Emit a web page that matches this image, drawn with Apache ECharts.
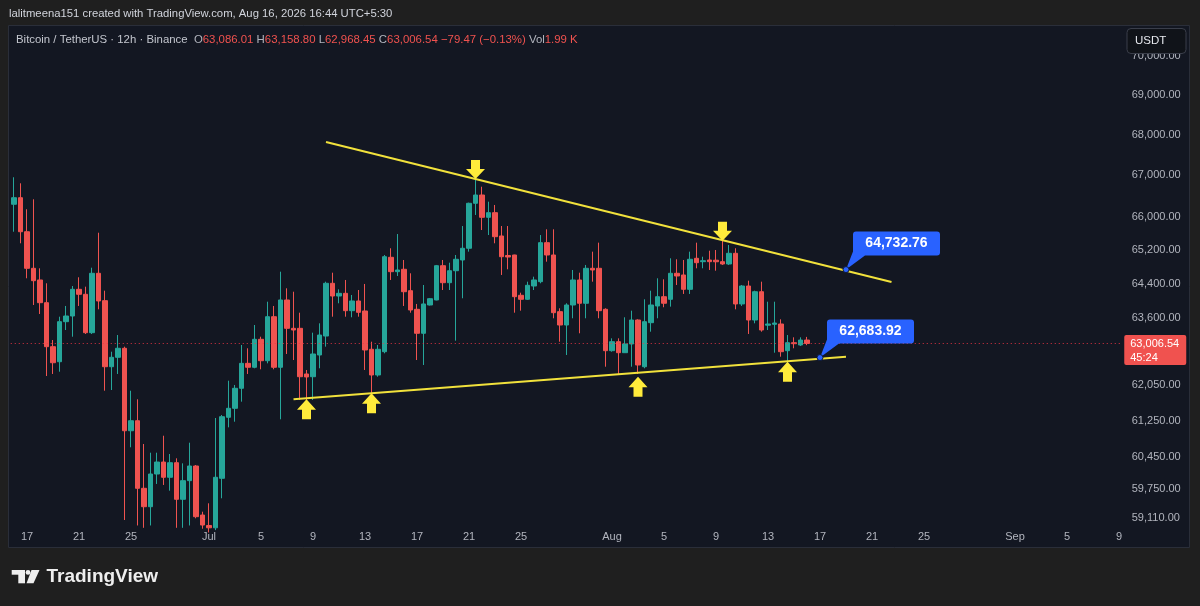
<!DOCTYPE html>
<html><head><meta charset="utf-8">
<script src="https://cdn.jsdelivr.net/npm/echarts@6/dist/echarts.min.js"></script>
<style>html,body{margin:0;padding:0;background:#1f1f1f;}#c{width:1200px;height:606px;}</style>
</head><body><div id="c"></div>
<script>
// ---------- DATA ----------
const slotStartUTC = Date.UTC(2026, 5, 16, 5, 30); // first 12h bar (Jun 16 05:30)
const slotCount = 171;                               // visible 12h slots on the time scale
const monthNames = ['Jan','Feb','Mar','Apr','May','Jun','Jul','Aug','Sep','Oct','Nov','Dec'];
const xTickDays = [1, 5, 9, 13, 17, 21, 25];

const opens = [66297,66457,65635,64763,64487,63954,62933,62588,63511,63643,64267,64150,63256,64645,64001,62474,62689,62896,61028,61252,
59757,59356,60070,60334,59998,60319,59517,59924,60246,59176,58950,58900,59976,61329,61531,61983,62551,62461,63103,62611,
63627,62461,64017,63357,63357,62308,62246,62742,63179,64409,64110,64173,63767,63994,63760,62873,62285,62818,65024,64683,
64740,64235,63799,63242,63900,64017,64825,64423,64706,64960,65239,66321,66522,65982,66094,65533,65067,65079,64127,64033,
64345,64447,65373,65079,63744,63434,63900,64487,63940,64763,64763,63799,62841,63048,62795,62995,63550,62474,63488,63877,
64094,64033,64645,64605,64267,65000,64920,64960,64955,64920,64865,65119,63924,64345,63550,64211,63430,63450,63457,62841,
63025,62972,63086.01];
const highs = [66955,66808,66176,66418,64763,64409,63087,63627,63877,64345,64551,64329,64777,65611,64235,62818,63202,62933,61928,61734,
60733,60540,60540,60917,60511,60416,60305,60762,60268,59248,59430,61313,61380,62155,62058,62972,62896,63434,63163,63977,
63877,64683,64291,64211,63720,62399,63256,63473,64447,64659,64267,64487,64134,64251,64393,63048,62972,65079,65239,65580,
64960,64645,63924,64369,64064,64842,64960,64896,65079,65772,66336,66888,66724,66360,66280,65772,65772,65085,64188,64447,
64565,65556,65693,65693,63823,63940,64723,64659,64842,65158,65373,63823,63126,63126,63613,63767,63566,64033,64235,64527,
64503,65000,64977,64960,65158,65373,65038,65181,65198,65420,65318,65239,64369,64470,64235,64447,63977,63977,63566,63202,
63149,63149,63158.80];
const lows = [65635,65358,64527,63900,63690,62262,62308,62360,63318,63163,63877,63226,63226,63799,61928,61944,62308,59068,60660,58950,
58900,58950,59852,59830,59705,58900,58900,58950,59105,58880,58800,58850,59539,61104,61230,61680,62308,62438,62415,62551,
62415,61284,62765,62627,61718,61567,61718,62438,62933,63627,63940,63627,63613,63627,62399,61831,62246,62781,64487,64581,
63877,63720,62627,62513,63888,64010,64251,64251,63071,64057,65158,66038,65676,65556,65358,64605,64740,63720,63767,64017,
64251,64409,64920,63590,63048,62742,63590,63242,63590,64447,63590,62474,62818,62285,62790,62474,62308,62438,63279,63590,
63847,63861,64369,64158,64158,64763,64763,64723,64706,64842,64842,63799,63877,63226,63473,63279,63318,62795,62703,62551,
62896,62950,62968.45];
const closes = [66457,65635,64763,64470,63954,62933,62565,63511,63643,64267,64150,63256,64645,63994,62474,62689,62896,61028,61252,59757,
59356,60070,60334,59998,60319,59517,59924,60246,59140,58960,58900,59998,61342,61531,61983,62551,62461,63103,62611,63627,
62461,64017,63357,63318,62246,62240,62765,63202,64409,64110,64173,63767,63994,63729,62857,62285,62873,65038,64683,64723,
64211,63783,63242,63924,64047,64825,64423,64706,64977,65239,66321,66522,65982,66094,65516,65038,65031,64094,64033,64362,
64487,65373,65079,63720,63434,63900,64487,63940,64763,64723,63767,62841,63048,62795,62995,63550,62513,63511,63900,64094,
63940,64645,64581,64267,64977,64896,64943,64920,64918,64865,65119,63924,64345,63550,64211,63318,63457,63480,62818,63025,
63002,63086.01,63006.54];

const yMin = 58982, yMax = 70763;
const yTickValues = [70000, 69000, 68000, 67000, 66000, 65200, 64400, 63600, 62050, 61250, 60450, 59750, 59110];

// annotations: [slot, price]
const upperTrend = [[47.85, 67824], [135.23, 64440]];
const lowerTrend = [[42.87, 61734], [128.36, 62703]];
const downArrows = [[71.23, 66913], [109.3, 65420]];
const upArrows = [[45.15, 61734], [55.05, 61869], [96.2, 62246], [119.3, 62589]];
const callouts = [[128.1, 64732.76], [124.1, 62683.92]];

const symbolName = 'Bitcoin / TetherUS · 12h · Binance';
const volText = '1.99 K';
const countdown = '45:24';
const watermark = 'lalitmeena151 created with TradingView.com, Aug 16, 2026 16:44 UTC+5:30';

// ---------- BUILD ----------
const UP = '#26a69a', DOWN = '#ef5350', YEL = '#f2e23c', ARROW = '#ffeb3b', BLUE = '#2962ff';
const FONT = '"Liberation Sans", Arial, sans-serif';
const fmt = v => Number(v).toLocaleString('en-US', {minimumFractionDigits: 2, maximumFractionDigits: 2});

const cats = [], tickText = [];
for (let i = 0; i < slotCount; i++) {
  const d = new Date(slotStartUTC + i * 12 * 3600 * 1000);
  const day = d.getUTCDate();
  cats.push(d.toISOString().slice(0, 16));
  let t = '';
  if (i % 2 === 0 && xTickDays.indexOf(day) >= 0) t = day === 1 ? monthNames[d.getUTCMonth()] : String(day);
  tickText.push(t);
}
const candles = opens.map((o, i) => [o, closes[i], lows[i], highs[i]]);
const n = closes.length;
const lastO = opens[n-1], lastH = highs[n-1], lastL = lows[n-1], lastC = closes[n-1];
const chg = lastC - closes[n-2];
const chgPct = chg / closes[n-2] * 100;
const sgn = v => (v < 0 ? '\u2212' : '+') + fmt(Math.abs(v));

const downPath = 'path://M5,0 L14,0 L14,9 L19,9 L9.5,19 L0,9 L5,9 Z';
const upPath = 'path://M9.5,0 L19,10 L14,10 L14,19 L5,19 L5,10 L0,10 Z';
const calloutPath = 'path://M0,38 L7,20 L7,3 Q7,0 10,0 L91,0 Q94,0 94,3 L94,21 Q94,24 91,24 L19,24 Z';

const markPoints = [];
downArrows.forEach(c => markPoints.push({coord: c, symbol: downPath, symbolSize: [19, 19], symbolOffset: [0, -9.5],
  itemStyle: {color: ARROW}, label: {show: false}}));
upArrows.forEach(c => markPoints.push({coord: c, symbol: upPath, symbolSize: [19, 20], symbolOffset: [0, 10],
  itemStyle: {color: ARROW}, label: {show: false}}));
callouts.forEach(c => {
  markPoints.push({coord: c, symbol: calloutPath, symbolSize: [94, 38], symbolOffset: [47, -19],
    itemStyle: {color: BLUE},
    label: {show: true, position: 'inside', offset: [3.5, -7], formatter: fmt(c[1]), color: '#ffffff',
      fontSize: 14, fontWeight: 'bold', fontFamily: FONT}});
  markPoints.push({coord: c, symbol: 'circle', symbolSize: 6, itemStyle: {color: BLUE, borderColor: '#0d1a3a', borderWidth: 1},
    label: {show: false}});
});

const chart = echarts.init(document.getElementById('c'), null, {renderer: 'canvas'});
const txt = (id, x, y, text, fill, size, extra) => Object.assign({type: 'text', id, z: 100, x, y,
  style: Object.assign({text, fill, font: size + 'px ' + FONT, verticalAlign: 'middle', align: 'left'}, extra || {})});

const HF = '11.4px ' + FONT;
const legendText = '{t|' + symbolName + '}  ' +
  '{g|O}{r|' + fmt(lastO) + '} {g|H}{r|' + fmt(lastH) + '} {g|L}{r|' + fmt(lastL) + '} {g|C}{r|' + fmt(lastC) + '} ' +
  '{r|' + sgn(chg) + ' (' + sgn(chgPct) + '%)} {g|Vol}{r|' + volText + '}';

const option = {
  animation: false,
  backgroundColor: '#1f1f1f',
  grid: {left: 10.75, right: 77.75, top: 26, bottom: 82},
  xAxis: {
    type: 'category', data: cats, boundaryGap: true,
    axisLine: {show: false}, axisTick: {show: false}, splitLine: {show: false},
    axisLabel: {interval: (i) => tickText[i] !== '', formatter: (v, i) => tickText[i],
      color: '#b2b5be', fontSize: 11, margin: 7, fontFamily: FONT}
  },
  yAxis: {
    type: 'log', logBase: 10, position: 'right', min: yMin, max: yMax,
    axisLine: {show: false}, axisTick: {show: false}, splitLine: {show: false},
    axisLabel: {customValues: yTickValues, formatter: v => fmt(Math.round(v * 100) / 100),
      color: '#b2b5be', fontSize: 11, margin: 9.5, fontFamily: FONT}
  },
  series: [{
    type: 'candlestick', data: candles, barWidth: '72%', clip: true,
    itemStyle: {color: UP, color0: DOWN, borderColor: UP, borderColor0: DOWN, borderWidth: 1},
    markLine: {
      silent: true, symbol: ['none', 'none'], label: {show: false}, animation: false,
      data: [
        {yAxis: lastC, lineStyle: {type: [1, 3], color: '#f23645', width: 1, opacity: 0.9}},
        [{coord: upperTrend[0], lineStyle: {color: YEL, width: 2, type: 'solid'}}, {coord: upperTrend[1]}],
        [{coord: lowerTrend[0], lineStyle: {color: YEL, width: 2, type: 'solid'}}, {coord: lowerTrend[1]}]
      ]
    },
    markPoint: {silent: true, animation: false, data: markPoints}
  }],
  graphic: [
    {type: 'rect', id: 'pane', z: -10, shape: {x: 8.5, y: 25.5, width: 1181, height: 522},
      style: {fill: '#131722', stroke: '#2a2e39', lineWidth: 1}},
    txt('wm', 9, 14, watermark, '#d1d4dc', 11.3),
    {type: 'text', id: 'legend', z: 100, x: 16, y: 40, style: {
      text: legendText, verticalAlign: 'middle', font: HF,
      rich: {t: {fill: '#c3c6ce', font: HF}, g: {fill: '#b2b5be', font: HF}, r: {fill: '#f0524f', font: HF}}}},
    {type: 'rect', id: 'usdtbox', z: 100, shape: {x: 1127, y: 28.5, width: 59, height: 25, r: 4},
      style: {fill: '#101319', stroke: '#3a3e4a', lineWidth: 1}},
    txt('usdt', 1135, 41, 'USDT', '#e6e8ee', 11.5),
    {type: 'rect', id: 'lg1', z: 100, shape: {x: 11.7, y: 570, width: 13.3, height: 4.7}, style: {fill: '#eeeeee'}},
    {type: 'rect', id: 'lg2', z: 100, shape: {x: 18.3, y: 570, width: 6.7, height: 13.3}, style: {fill: '#eeeeee'}},
    {type: 'circle', id: 'lg3', z: 100, shape: {cx: 28, cy: 572.4, r: 2.4}, style: {fill: '#eeeeee'}},
    {type: 'polygon', id: 'lg4', z: 100, shape: {points: [[31.5, 570], [39.5, 570], [33.5, 583.3], [26.5, 583.3]]}, style: {fill: '#eeeeee'}},
    {type: 'text', id: 'tvtext', z: 100, x: 46.5, y: 577, style: {text: 'TradingView', fill: '#eeeeee',
      font: 'bold 19px ' + FONT, verticalAlign: 'middle'}}
  ]
};
chart.setOption(option);

// current-price tag on the price scale, placed through the axis scale
const py = chart.convertToPixel({yAxisIndex: 0}, lastC);
const gx = chart.convertToPixel({xAxisIndex: 0}, slotCount - 1) + 6.5 / 2;
chart.setOption({graphic: [
  {type: 'rect', id: 'ptag', z: 100, shape: {x: gx + 2, y: py - 8.5, width: 62, height: 30, r: 2}, style: {fill: '#f0524f'}},
  txt('ptag1', gx + 8, py, fmt(lastC), '#ffffff', 11),
  txt('ptag2', gx + 8, py + 14, countdown, '#ffffff', 11)
]});
</script></body></html>
